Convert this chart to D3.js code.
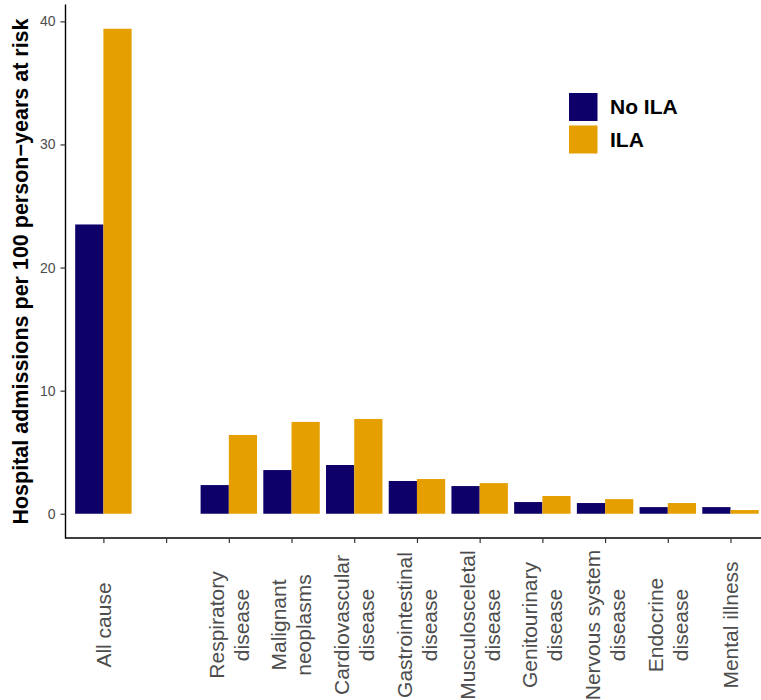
<!DOCTYPE html>
<html>
<head>
<meta charset="utf-8">
<script src="https://cdn.jsdelivr.net/npm/d3@7"></script>
<style>
  body { margin: 0; background: #fff; }
  text { font-family: "Liberation Sans", Arial, Helvetica, sans-serif; }
</style>
</head>
<body>
<div id="chart"></div>
<script>
// categories (second one is an empty slot)
var categories = ['All cause', ' ', 'Respiratory\ndisease', 'Malignant\nneoplasms', 'Cardiovascular\ndisease',
	'Gastrointestinal\ndisease', 'Musculosceletal\ndisease', 'Genitourinary\ndisease',
	'Nervous system\ndisease', 'Endocrine\ndisease', 'Mental illness'];

var series = ['No ILA', 'ILA'];

var noIla = [23.5, null, 2.33, 3.55, 3.96, 2.66, 2.25, 0.95, 0.87, 0.54, 0.54];
var ila = [39.4, null, 6.40, 7.46, 7.70, 2.82, 2.49, 1.44, 1.19, 0.87, 0.30];

var yTicks = [0, 10, 20, 30, 40];

var colors = d3.scaleOrdinal().domain(series).range(['#0d0068', '#e69f00']);

var svg = d3.select('#chart')
			.append('svg')
			.attr('width', 761)
			.attr('height', 700);

// rows for the bars
var rows = [];
categories.forEach((c, i) => {
	if (noIla[i] != null) rows.push({cat: c, key: 'No ILA', value: noIla[i]});
	if (ila[i] != null) rows.push({cat: c, key: 'ILA', value: ila[i]});
});

// y scale with ggplot like 5% expansion
var maxVal = d3.max(rows, d => d.value);
var pad = maxVal * 0.05;
var y = d3.scaleLinear()
			.domain([-pad, maxVal + pad])
			.range([538, 4.5]);

var x = d3.scalePoint()
			.domain(categories)
			.range([103.4, 730.5]);

var barW = x.step() * 0.9 / 2;
var x1 = d3.scaleBand().domain(series).range([-barW, barW]);

// bars
svg.append('g')
	.selectAll('rect')
	.data(rows)
	.enter()
	.append('rect')
	.attr('x', d => x(d.cat) + x1(d.key))
	.attr('width', x1.bandwidth())
	.attr('y', d => y(d.value))
	.attr('height', d => y(0) - y(d.value))
	.attr('fill', d => colors(d.key));

// y axis
var yAxis = svg.append('g')
			.attr('transform', 'translate(65.5, 0)')
			.call(d3.axisLeft(y).tickValues(yTicks).tickSize(5).tickPadding(5));

yAxis.select('.domain').attr('stroke', '#000').attr('stroke-width', 1.4).attr('d', 'M0,4.5V538.5');
yAxis.selectAll('.tick line').attr('stroke', '#333').attr('stroke-width', 1.2);
yAxis.selectAll('.tick text')
	.attr('fill', '#4d4d4d')
	.style('font-size', '14px')
	.style('font-family', '"Liberation Sans", Arial, sans-serif');

// x axis
var xAxis = svg.append('g')
			.attr('transform', 'translate(0, 538)')
			.call(d3.axisBottom(x).tickSize(5).tickFormat(''));

xAxis.select('.domain').attr('stroke', '#000').attr('stroke-width', 1.4).attr('d', 'M65,0H761');
xAxis.selectAll('.tick line').attr('stroke', '#333').attr('stroke-width', 1.2);

// rotated x labels, centered in the axis area
var labels = svg.append('g')
				.selectAll('text')
				.data(categories)
				.enter()
				.append('text')
				.attr('transform', d => `translate(${x(d)}, 625) rotate(-90)`)
				.attr('text-anchor', 'middle')
				.attr('fill', '#4d4d4d')
				.style('font-size', '21px');

labels.each(function(d) {
	var lines = d.split('\n');
	var t = d3.select(this);
	lines.forEach((l, i) => {
		t.append('tspan')
			.attr('x', 0)
			.attr('y', (i - (lines.length - 1) / 2) * 25 + 7.35)
			.text(l);
	});
});

// y title
svg.append('text')
	.attr('transform', 'translate(28, 271.5) rotate(-90)')
	.attr('text-anchor', 'middle')
	.attr('font-weight', 'bold')
	.style('font-size', '21.5px')
	.text('Hospital admissions per 100 person\u2212years at risk');

// legend
var legend = svg.append('g')
				.selectAll('g')
				.data(series)
				.enter()
				.append('g')
				.attr('transform', (d, i) => `translate(569, ${93 + i * 32.5})`);

legend.append('rect')
	.attr('width', 28.5)
	.attr('height', 28)
	.attr('fill', d => colors(d));

legend.append('text')
	.attr('x', 41)
	.attr('y', 14)
	.attr('dy', '0.35em')
	.attr('font-weight', 'bold')
	.style('font-size', '21px')
	.text(d => d);
</script>
</body>
</html>
